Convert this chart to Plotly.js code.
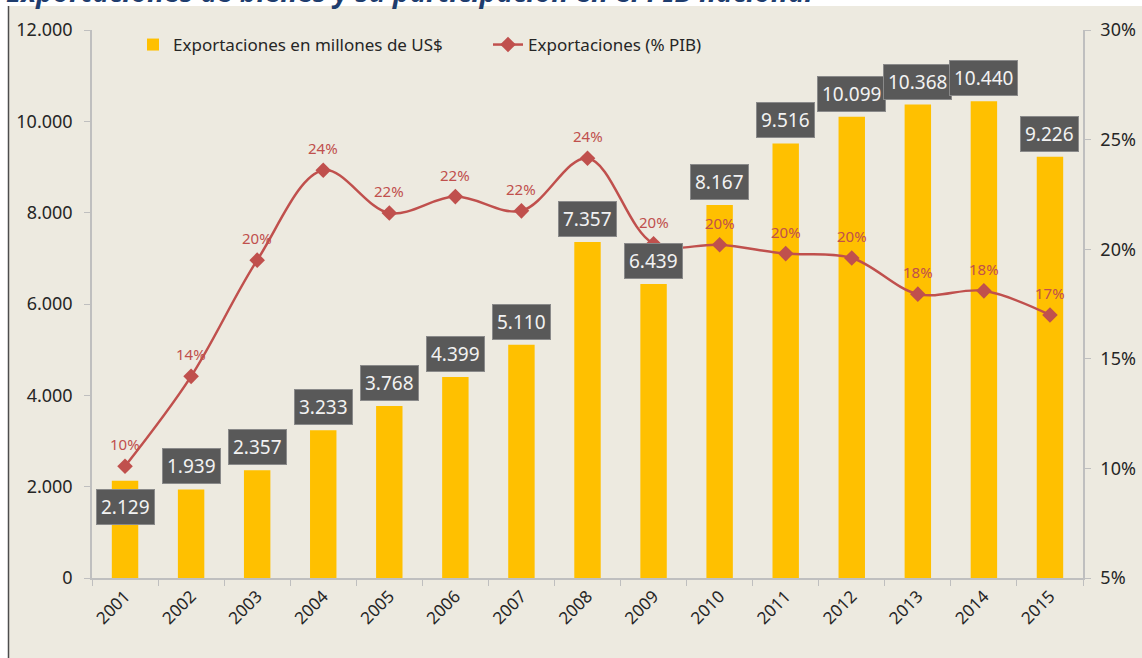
<!DOCTYPE html>
<html>
<head>
<meta charset="utf-8">
<script src="https://cdn.plot.ly/plotly-3.0.1.min.js"></script>
<style>
  html, body { margin: 0; padding: 0; background: #ffffff; }
  #chart { width: 1142px; height: 658px; }
</style>
</head>
<body>
<div id="chart"></div>
<script>
// ---- Data ----
const years = ['2001','2002','2003','2004','2005','2006','2007','2008','2009','2010','2011','2012','2013','2014','2015'];
const exportsUSD = [2129, 1939, 2357, 3233, 3768, 4399, 5110, 7357, 6439, 8167, 9516, 10099, 10368, 10440, 9226];
const pibShare = [10.1, 14.2, 19.5, 23.6, 21.65, 22.4, 21.75, 24.15, 20.25, 20.2, 19.8, 19.6, 17.95, 18.1, 17.0];
const pibLabels = ['10%','14%','20%','24%','22%','22%','22%','24%','20%','20%','20%','20%','18%','18%','17%'];
const leftTicks = [0, 2000, 4000, 6000, 8000, 10000, 12000];
const rightTicks = [5, 10, 15, 20, 25, 30];

const barName = 'Exportaciones en millones de US$';
const lineName = 'Exportaciones (% PIB)';
const titleText = 'Exportaciones de bienes y su participación en el PIB nacional';

// ---- Helpers ----
function fmtThousands(v) { return String(v).replace(/\B(?=(\d{3})+(?!\d))/g, '.'); }
const CW = 1142, CH = 658;
const MARG = { l: 92, r: 59, t: 30, b: 80 };
const PLOTW = CW - MARG.l - MARG.r, PLOTH = CH - MARG.t - MARG.b;
function toPaperX(x) { return (x - MARG.l) / PLOTW; }
function toPaperY(y) { return (CH - MARG.b - y) / PLOTH; }

const FONT = 'Noto Sans, Open Sans, sans-serif';
const BAR_COLOR = '#ffc000';
const LINE_COLOR = '#c0504d';
const AXIS_COLOR = '#bfbfbf';
const TICK_FONT_COLOR = '#262626';

const barTrace = {
  type: 'bar',
  name: barName,
  x: years,
  y: exportsUSD,
  width: 0.4,
  marker: { color: BAR_COLOR },
  xaxis: 'x',
  yaxis: 'y'
};

const lineTrace = {
  type: 'scatter',
  mode: 'lines+markers',
  name: lineName,
  x: years,
  y: pibShare,
  line: { color: LINE_COLOR, width: 2.5, shape: 'spline', smoothing: 1 },
  marker: { symbol: 'diamond', size: 12, color: LINE_COLOR },
  xaxis: 'x',
  yaxis: 'y2',
  cliponaxis: false
};

const barLabels = years.map((yr, i) => ({
  x: i,
  y: exportsUSD[i],
  xref: 'x',
  yref: 'y',
  text: fmtThousands(exportsUSD[i]),
  showarrow: false,
  xanchor: 'center',
  yanchor: i === 0 ? 'top' : 'bottom',
  yshift: i === 0 ? -8 : 5,
  bgcolor: '#595959',
  bordercolor: '#8a8a8a',
  borderwidth: 1,
  borderpad: 4,
  font: { family: FONT, size: 19, color: '#f2f2f2' }
}));

const pctLabels = years.map((yr, i) => ({
  x: i,
  y: pibShare[i],
  xref: 'x',
  yref: 'y2',
  text: pibLabels[i],
  showarrow: false,
  xanchor: 'center',
  yanchor: 'middle',
  yshift: 22,
  font: { family: FONT, size: 15, color: LINE_COLOR }
}));

const layout = {
  width: CW,
  height: CH,
  margin: { l: MARG.l, r: MARG.r, t: MARG.t, b: MARG.b, pad: 0 },
  paper_bgcolor: '#ffffff',
  plot_bgcolor: 'rgba(0,0,0,0)',
  font: { family: FONT, size: 16, color: '#333333' },
  title: {
    text: titleText,
    xref: 'container',
    yref: 'container',
    x: 6 / CW,
    xanchor: 'left',
    y: 1 - 2 / CH,
    yanchor: 'bottom',
    font: { family: FONT, size: 28, color: '#1f3d6e', weight: 'bold', style: 'italic' }
  },
  showlegend: true,
  legend: {
    orientation: 'h',
    x: toPaperX(133),
    xanchor: 'left',
    y: toPaperY(45),
    yanchor: 'middle',
    bgcolor: 'rgba(0,0,0,0)',
    font: { family: FONT, size: 17, color: TICK_FONT_COLOR },
    entrywidth: 310,
    traceorder: 'normal'
  },
  xaxis: {
    type: 'category',
    categoryorder: 'array',
    categoryarray: years,
    range: [-0.5, years.length - 0.5],
    showgrid: false,
    showline: true,
    linecolor: AXIS_COLOR,
    linewidth: 1.5,
    ticks: 'outside',
    tickson: 'boundaries',
    ticklen: 6,
    tickcolor: AXIS_COLOR,
    tickangle: -45,
    tickfont: { family: FONT, size: 17, color: TICK_FONT_COLOR },
    zeroline: false
  },
  yaxis: {
    range: [0, 12000],
    tickmode: 'array',
    tickvals: leftTicks,
    ticktext: leftTicks.map(fmtThousands),
    showgrid: false,
    zeroline: false,
    showline: true,
    linecolor: AXIS_COLOR,
    linewidth: 1.5,
    ticks: 'outside',
    ticklen: 6,
    tickcolor: AXIS_COLOR,
    ticklabelstandoff: 8,
    tickfont: { family: FONT, size: 18, color: TICK_FONT_COLOR }
  },
  yaxis2: {
    overlaying: 'y',
    anchor: 'x',
    side: 'right',
    range: [5, 30],
    tickmode: 'array',
    tickvals: rightTicks,
    ticktext: rightTicks.map(v => v + '%'),
    showgrid: false,
    zeroline: false,
    showline: true,
    linecolor: AXIS_COLOR,
    linewidth: 1.5,
    ticks: 'outside',
    ticklen: 6,
    tickcolor: AXIS_COLOR,
    ticklabelstandoff: 6,
    tickfont: { family: FONT, size: 18, color: TICK_FONT_COLOR }
  },
  shapes: [
    {
      type: 'rect', layer: 'below', xref: 'paper', yref: 'paper',
      x0: toPaperX(8), x1: toPaperX(CW), y0: toPaperY(CH), y1: toPaperY(6),
      fillcolor: '#edeae0', line: { width: 0 }
    },
    {
      type: 'line', layer: 'below', xref: 'paper', yref: 'paper',
      x0: toPaperX(8.5), x1: toPaperX(8.5), y0: toPaperY(CH), y1: toPaperY(6),
      line: { color: '#4d4d4d', width: 1.5 }
    }
  ],
  annotations: barLabels.concat(pctLabels)
};

Plotly.newPlot('chart', [barTrace, lineTrace], layout, { displayModeBar: false });
</script>
</body>
</html>
